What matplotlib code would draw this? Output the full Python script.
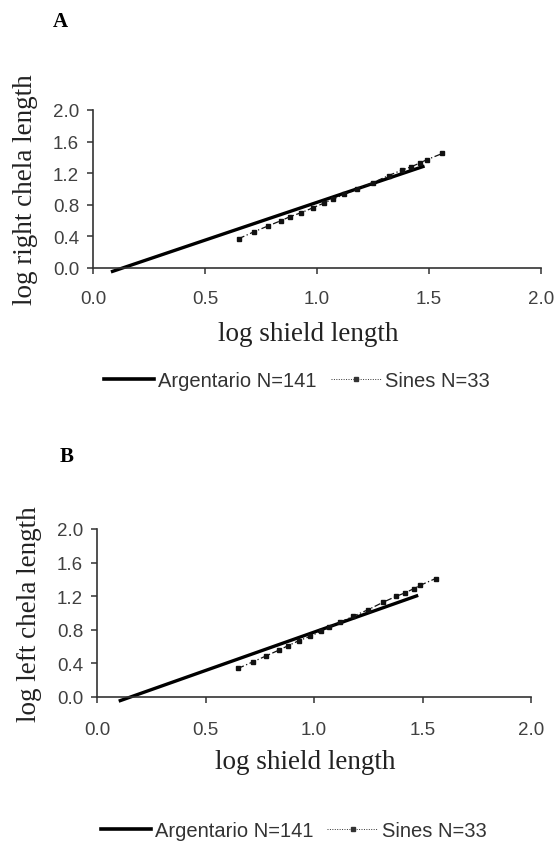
import matplotlib
matplotlib.use("Agg")
import matplotlib.pyplot as plt
from matplotlib.lines import Line2D

# Argentario regression lines (end points)
arg_x_a = [0.08, 1.48]
arg_y_a = [-0.05, 1.29]
arg_x_b = [0.10, 1.48]
arg_y_b = [-0.05, 1.21]

# Sines fitted points
sin_x = [0.65, 0.72, 0.78, 0.84, 0.88, 0.93, 0.98, 1.03, 1.07,
         1.12, 1.18, 1.25, 1.32, 1.38, 1.42, 1.46, 1.49, 1.56]
sin_y_a = [0.37, 0.46, 0.53, 0.60, 0.65, 0.70, 0.76, 0.82, 0.87,
           0.93, 1.00, 1.08, 1.17, 1.24, 1.28, 1.33, 1.37, 1.45]
sin_y_b = [0.34, 0.42, 0.49, 0.56, 0.61, 0.67, 0.72, 0.78, 0.83,
           0.89, 0.96, 1.04, 1.13, 1.20, 1.24, 1.29, 1.33, 1.41]

xticks = [0.0, 0.5, 1.0, 1.5, 2.0]
yticks = [0.0, 0.4, 0.8, 1.2, 1.6, 2.0]

tick_color = "#404040"
serif = "Liberation Serif"
sans = "Liberation Sans"

fig = plt.figure(figsize=(5.56, 8.45), dpi=100)


def panel(rect, ax_x, ax_y, sy, ylabel, letter, letter_pos, legend_pos, xpad, lpad):
    ax = fig.add_axes(rect)
    ax.plot(ax_x, ax_y, color="black", lw=2.4, clip_on=False, solid_capstyle="butt")
    ax.plot(sin_x, sy, color="#111111", lw=0.9, ls=(0, (5, 2, 1, 2)),
            marker="s", ms=2.8, clip_on=False)
    ax.set_xlim(0, 2)
    ax.set_ylim(0, 2)
    ax.set_xticks(xticks)
    ax.set_yticks(yticks)
    ax.set_xticklabels([f"{v:.1f}" for v in xticks], family=sans, fontsize=13.5, color=tick_color)
    ax.set_yticklabels([f"{v:.1f}" for v in yticks], family=sans, fontsize=13.5, color=tick_color)
    ax.tick_params(direction="out", length=4, width=1.1, color="#333333")
    ax.tick_params(axis="x", pad=xpad)
    ax.tick_params(axis="y", pad=6)
    for s in ["top", "right"]:
        ax.spines[s].set_visible(False)
    for s in ["left", "bottom"]:
        ax.spines[s].set_linewidth(1.2)
        ax.spines[s].set_color("#333333")
    ax.set_xlabel("log shield length", family=serif, fontsize=19.5, color="#222222", labelpad=lpad)
    ax.xaxis.label.set_x(0.48)
    ax.set_ylabel(ylabel, family=serif, fontsize=19.5, color="#222222", labelpad=11)
    fig.text(letter_pos[0], letter_pos[1], letter, family=serif, fontsize=15,
             fontweight="bold", ha="center", va="center")

    handles = [
        Line2D([], [], color="black", lw=2.6),
        Line2D([], [], color="#333333", lw=0.7, ls=(0, (1, 1.5)), marker="s", ms=3),
    ]
    fig.legend(handles, ["Argentario N=141", "Sines N=33"], loc="center",
               bbox_to_anchor=legend_pos, ncol=2, frameon=False,
               prop={"family": sans, "size": 14.5}, handlelength=2.5,
               handletextpad=0.2, columnspacing=0.7, labelcolor="#333333")
    return ax


panel([0.1673, 0.6817, 0.8058, 0.187], arg_x_a, arg_y_a, sin_y_a,
      "log right chela length", "A", (0.108, 0.974), (0.534, 0.549), 12, 10)
panel([0.1745, 0.174, 0.7806, 0.1988], arg_x_b, arg_y_b, sin_y_b,
      "log left chela length", "B", (0.12, 0.459), (0.528, 0.0154), 13, 8)

fig.savefig("out.png", dpi=100)
